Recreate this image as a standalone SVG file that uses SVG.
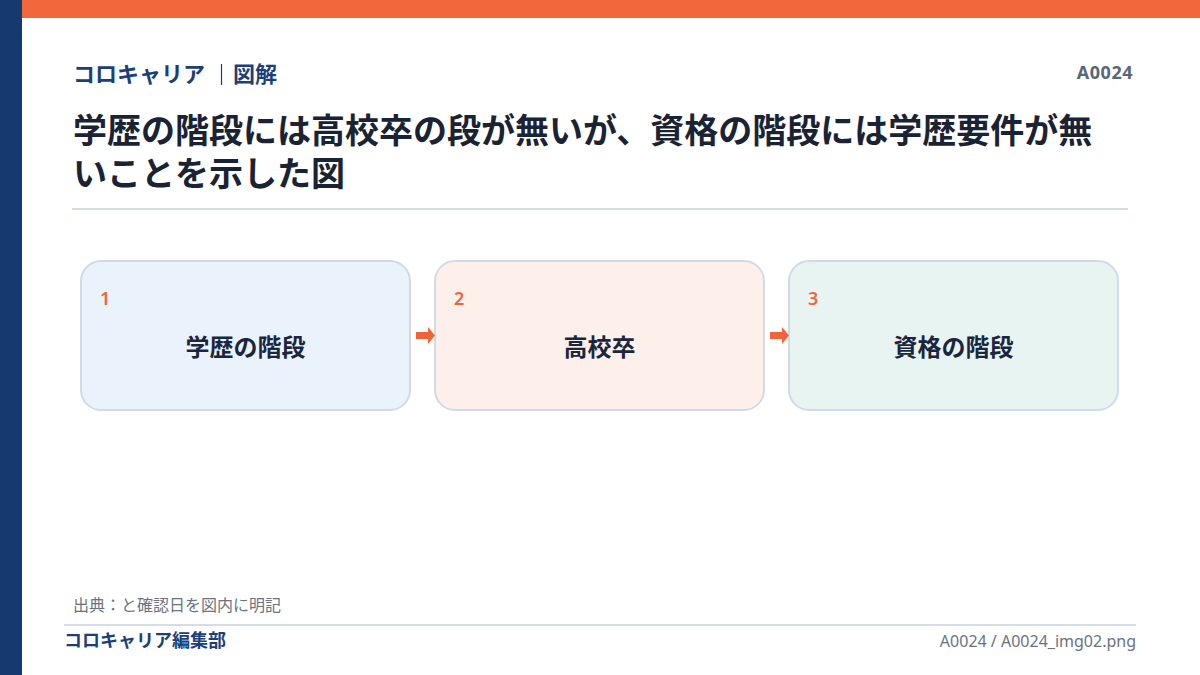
<svg xmlns="http://www.w3.org/2000/svg" width="1200" height="675" viewBox="0 0 1200 675">
<style>
.jp{font-family:"Noto Sans CJK JP","Noto Sans",sans-serif}
.box{stroke:#d0dbe6;stroke-width:2}
.num{font-family:"Noto Sans","Noto Sans CJK JP",sans-serif;font-size:18px;fill:#f0643a;font-weight:600}
.lbl{font-family:"Noto Sans CJK JP",sans-serif;font-size:24px;font-weight:700;fill:#1a2640;text-anchor:middle}
.arr{fill:#f0643a}
</style>
<rect x="0" y="0" width="1200" height="675" fill="#ffffff"/>
<rect x="22" y="0" width="1178" height="18" fill="#f2673c"/>
<rect x="0" y="0" width="22" height="675" fill="#143a70"/>
<g id="header">
<text x="73" y="82" class="jp" font-size="22" font-weight="700" fill="#1b3f7a">コロキャリア</text>
<line x1="221.5" y1="64" x2="221.5" y2="85" stroke="#1b3f7a" stroke-width="1.2"/>
<text x="233" y="82" class="jp" font-size="22" font-weight="700" fill="#1b3f7a">図解</text>
<text x="1133" y="79" text-anchor="end" font-family="Noto Sans,sans-serif" font-size="18" font-weight="700" fill="#5b6678" letter-spacing="0.5">A0024</text>
</g>
<g id="title">
<text x="73" y="143" class="jp" font-size="34" font-weight="700" fill="#1a2333">学歴の階段には高校卒の段が無いが、資格の階段には学歴要件が無</text>
<text x="73" y="186" class="jp" font-size="34" font-weight="700" fill="#1a2333">いことを示した図</text>
<line x1="72" y1="209" x2="1128" y2="209" stroke="#d5dde8" stroke-width="2"/>
</g>
<g id="node1">
<rect class="box" x="81" y="261" width="329" height="149" rx="20" fill="#eaf2fc"/>
<text class="num" x="100" y="305">1</text>
<text class="lbl" x="245.5" y="356">学歴の階段</text>
</g>
<g id="node2">
<rect class="box" x="435" y="261" width="329" height="149" rx="20" fill="#fdf0eb"/>
<text class="num" x="454" y="305">2</text>
<text class="lbl" x="599.5" y="356">高校卒</text>
</g>
<g id="node3">
<rect class="box" x="789" y="261" width="329" height="149" rx="20" fill="#e8f4f1"/>
<text class="num" x="808" y="305">3</text>
<text class="lbl" x="953.5" y="356">資格の階段</text>
</g>
<g id="connectors">
<path class="arr" d="M416 332 H428 V327 L435 335.5 L428 344 V339 H416 Z"/>
<path class="arr" d="M770 332 H782 V327 L789 335.5 L782 344 V339 H770 Z"/>
</g>
<g id="footer">
<text x="73" y="611" class="jp" font-size="16" fill="#6b7280">出典：と確認日を図内に明記</text>
<line x1="64" y1="625" x2="1136" y2="625" stroke="#d5dde8" stroke-width="2"/>
<text x="64" y="647" class="jp" font-size="18" font-weight="700" fill="#1b3f7a">コロキャリア編集部</text>
<text x="1136" y="647" text-anchor="end" font-family="Noto Sans,sans-serif" font-size="16" fill="#6b7280">A0024 / A0024_img02.png</text>
</g>
</svg>
